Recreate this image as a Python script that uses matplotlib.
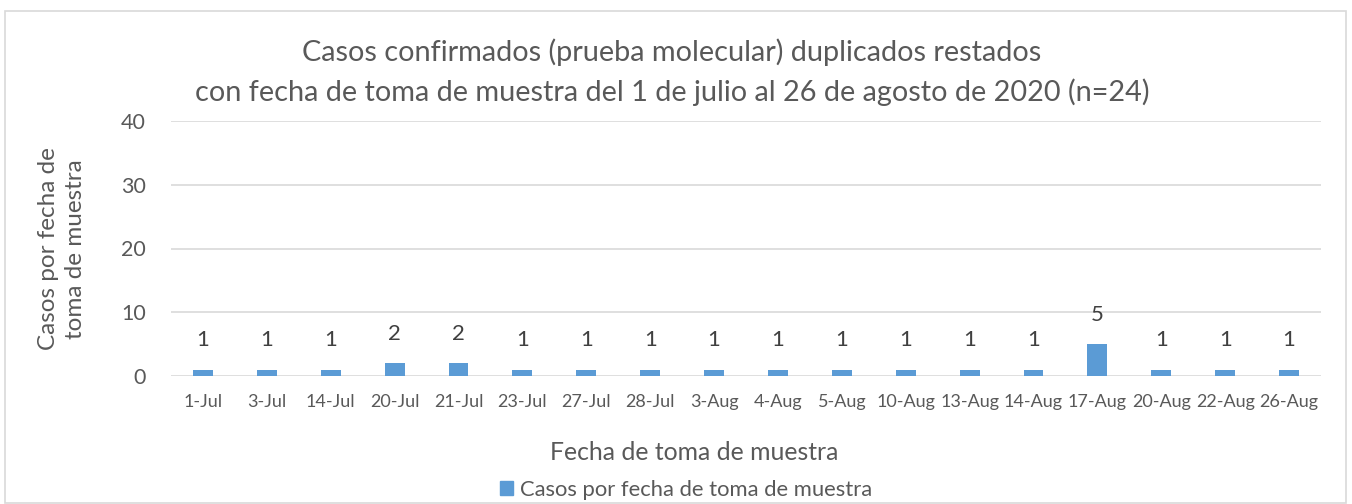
import matplotlib
matplotlib.use("Agg")
import matplotlib.pyplot as plt
from matplotlib.patches import Rectangle, Patch

categories = ["1-Jul", "3-Jul", "14-Jul", "20-Jul", "21-Jul", "23-Jul", "27-Jul", "28-Jul",
              "3-Aug", "4-Aug", "5-Aug", "10-Aug", "13-Aug", "14-Aug", "17-Aug", "20-Aug",
              "22-Aug", "26-Aug"]
casos = [1, 1, 1, 2, 2, 1, 1, 1, 1, 1, 1, 1, 1, 1, 5, 1, 1, 1]
yticks = [0, 10, 20, 30, 40]

title = ("Casos confirmados (prueba molecular) duplicados restados\n"
         "con fecha de toma de muestra del 1 de julio al 26 de agosto de 2020 (n=24)")
xlabel = "Fecha de toma de muestra"
ylabel = "Casos por fecha de\ntoma de muestra"
series_name = "Casos por fecha de toma de muestra"

plt.rcParams['font.family'] = ['Lato', 'DejaVu Sans']
txt = "#595959"
bar_color = "#5b9bd5"
grid_color = "#d9d9d9"

fig = plt.figure(figsize=(13.52, 5.04), dpi=100)
fig.patches.append(Rectangle((5/1352, 1/504), 1341/1352, 492/504, transform=fig.transFigure,
                             fill=False, edgecolor="#d9d9d9", linewidth=1.2))

ax = fig.add_axes([171/1352, 1 - 376/504, (1321 - 171)/1352, (376 - 121)/504])
x = list(range(len(categories)))
bars = ax.bar(x, casos, width=0.31, color=bar_color, zorder=3)
ax.set_xlim(-0.5, len(categories) - 0.5)
ax.set_ylim(0, 40)
ax.set_yticks(yticks)
ax.set_xticks(x)
ax.set_xticklabels(categories)
ax.tick_params(axis='x', length=0, labelsize=13, colors=txt, pad=13)
ax.tick_params(axis='y', length=0, labelsize=15.5, colors=txt, pad=18)
ax.grid(axis='y', color=grid_color, linewidth=1.2, zorder=0)
for s in ax.spines.values():
    s.set_visible(False)

for xi, v in zip(x, casos):
    ax.annotate(str(v), (xi, v), xytext=(0, 14), textcoords='offset points',
                ha='center', va='bottom', fontsize=16, color="#404040")

fig.text(672/1352, 1 - 72/504, title, ha='center', va='center', fontsize=20.8,
         color=txt, linespacing=1.55)
fig.text(694/1352, 1 - 452/504, xlabel, ha='center', va='center', fontsize=17.8, color=txt)
fig.text(62/1352, 1 - 249/504, ylabel, ha='center', va='center', fontsize=17.5, color=txt,
         rotation=90, linespacing=1.35)

fig.legend(handles=[Patch(color=bar_color, label=series_name)], loc='center',
           bbox_to_anchor=(686/1352, 1 - 490/504), frameon=False, fontsize=15.8,
           handlelength=0.6, handleheight=0.6, handletextpad=0.3, labelcolor=txt)

fig.savefig("out.png", dpi=100)
